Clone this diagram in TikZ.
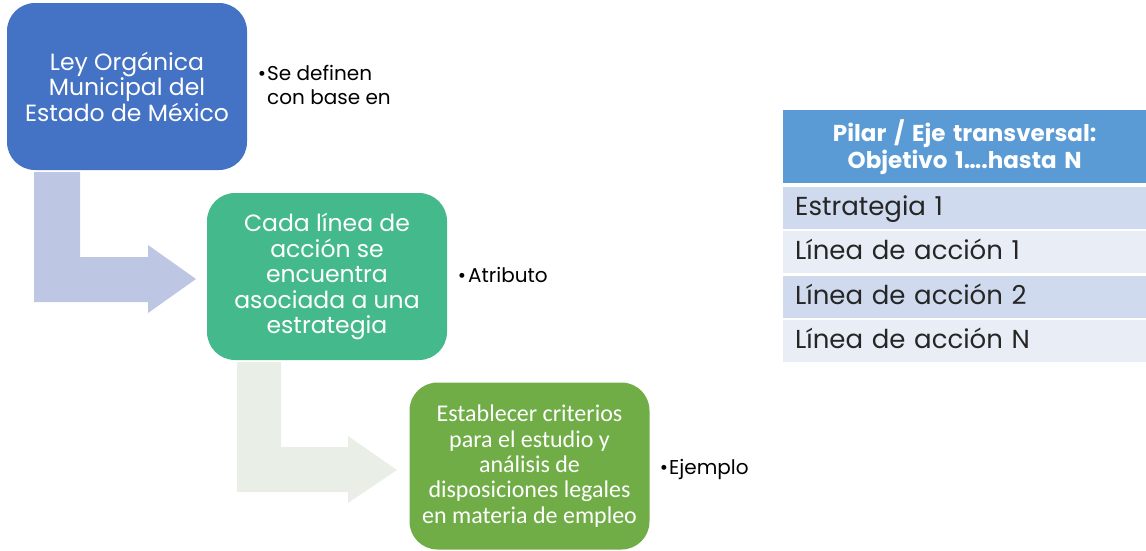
\documentclass[tikz,border=0pt]{standalone}
\usepackage{fontspec}
\setmainfont{Poppins}
\newfontfamily\calib{Carlito}
\definecolor{cblue}{HTML}{4472C4}
\definecolor{cteal}{HTML}{44BA8C}
\definecolor{cgreen}{HTML}{70AD47}
\definecolor{carrowa}{HTML}{BDC7E3}
\definecolor{carrowb}{HTML}{E9EFE6}
\definecolor{chead}{HTML}{5B9BD5}
\definecolor{crowa}{HTML}{CFDAEE}
\definecolor{crowb}{HTML}{E9EEF6}
\tikzset{
  stepbox/.style={rounded corners=28pt, minimum width=240pt, minimum height=167pt, inner sep=0pt, align=center, text=white},
  bigtxt/.style={font=\fontsize{23.5}{25.5}\selectfont},
  smalltxt/.style={font=\fontsize{20}{24}\selectfont, align=left, inner sep=0pt, anchor=base west},
  tabrow/.style={anchor=north west, minimum width=363pt, minimum height=42pt, text width=339pt, inner xsep=12pt, text height=20pt, text depth=5pt, align=left, font=\fontsize{26}{28}\selectfont, text=black!85},
}
\begin{document}
\begin{tikzpicture}[x=1pt,y=-1pt]
\useasboundingbox (0,0) rectangle (1146,550);
% block arrows
\fill[carrowa] (34,172) -- (80,172) -- (80,257) -- (148,257) -- (148,245) -- (196,279) -- (148,313) -- (148,302) -- (34,302) -- cycle;
\fill[carrowb] (237,362) -- (281,362) -- (281,447) -- (348,447) -- (348,436) -- (397,470) -- (348,503) -- (348,492) -- (237,492) -- cycle;
% boxes
\node[stepbox, fill=cblue, bigtxt] (b1) at (127,86.5) {Ley Orgánica\\Municipal del\\Estado de México};
\node[stepbox, fill=cteal, bigtxt] (b2) at (327,276.5) {Cada línea de\\acción se\\encuentra\\asociada a una\\estrategia};
\node[stepbox, fill=cgreen, font=\calib\fontsize{24}{25.3}\selectfont] (b3) at (529.5,466) {Establecer criterios\\para el estudio y\\análisis de\\disposiciones legales\\en materia de empleo};
% side labels
\node[smalltxt] (l1) at (267,104) {\llap{\textbullet\hspace{1pt}}Se definen\\con base en};
\node[smalltxt] (l2) at (468,282) {\llap{\textbullet\hspace{2pt}}Atributo};
\node[smalltxt] (l3) at (669,474) {\llap{\textbullet\hspace{1pt}}Ejemplo};
% table
\node[anchor=north west, fill=chead, minimum width=363pt, minimum height=73pt, text width=351pt, align=center, text=white, font=\bfseries\fontsize{23}{27}\selectfont] (th) at (783,110) {Pilar / Eje transversal:\\Objetivo 1….hasta N};
\node[tabrow, fill=crowa] (r1) at (783,187) {Estrategia 1};
\node[tabrow, fill=crowb] (r2) at (783,231) {Línea de acción 1};
\node[tabrow, fill=crowa] (r3) at (783,276) {Línea de acción 2};
\node[tabrow, fill=crowb] (r4) at (783,320) {Línea de acción N};
\end{tikzpicture}
\end{document}
